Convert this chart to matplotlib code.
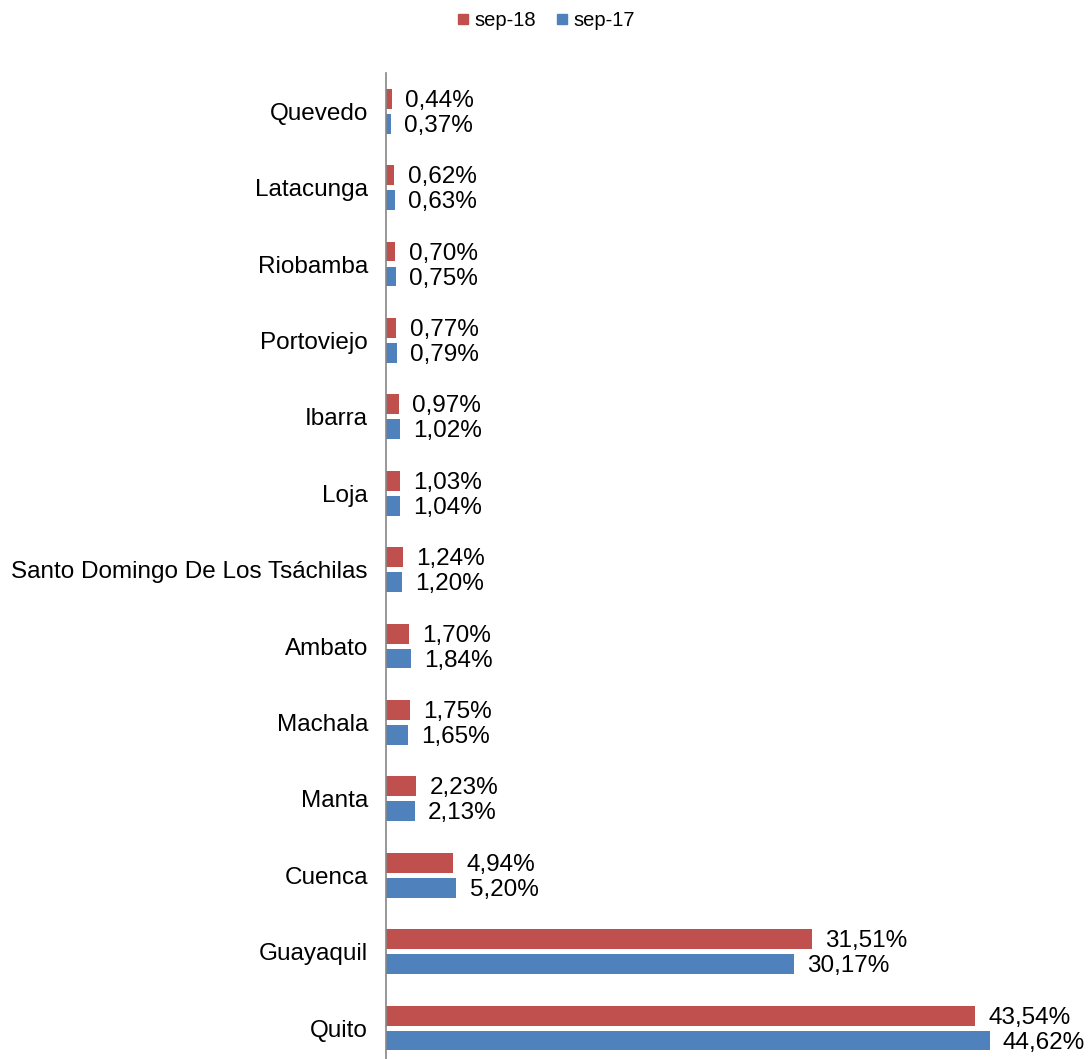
import matplotlib
matplotlib.use("Agg")
import matplotlib.pyplot as plt
from matplotlib.lines import Line2D
import numpy as np

plt.rcParams['font.family'] = ['Liberation Sans', 'DejaVu Sans']

# cities from bottom to top
cities = ["Quito", "Guayaquil", "Cuenca", "Manta", "Machala", "Ambato",
          "Santo Domingo De Los Tsáchilas", "Loja", "Ibarra", "Portoviejo",
          "Riobamba", "Latacunga", "Quevedo"]
sep18 = [43.54, 31.51, 4.94, 2.23, 1.75, 1.70, 1.24, 1.03, 0.97, 0.77, 0.70, 0.62, 0.44]
sep17 = [44.62, 30.17, 5.20, 2.13, 1.65, 1.84, 1.20, 1.04, 1.02, 0.79, 0.75, 0.63, 0.37]

red = "#C0504D"
blue = "#4F81BD"

W, H = 1088, 1059
fig = plt.figure(figsize=(W/100, H/100), dpi=100)
ax = fig.add_axes([386/W, 0, 702/W, (H-73)/H])

y = np.arange(len(cities))
h = 0.26
off = 0.163
ax.barh(y + off, sep18, height=h, color=red, label="sep-18")
ax.barh(y - off, sep17, height=h, color=blue, label="sep-17")

def fmt(v):
    return "{:.2f}%".format(v).replace(".", ",")

for yi, a, b in zip(y, sep18, sep17):
    ax.annotate(fmt(a), xy=(a, yi + off), xytext=(9.5, -1.5), textcoords="offset points",
                va="center", ha="left", fontsize=17.5)
    ax.annotate(fmt(b), xy=(b, yi - off), xytext=(9.5, -1.5), textcoords="offset points",
                va="center", ha="left", fontsize=17.5)

ax.set_xlim(0, 51.9)
ax.set_ylim(-0.405, 12.5)
ax.set_yticks(y)
ax.set_yticklabels(cities, fontsize=17.5)
ax.tick_params(axis="y", length=0, pad=13)
ax.set_xticks([])
for s in ["top", "right", "bottom"]:
    ax.spines[s].set_visible(False)
ax.spines["left"].set_color("#868686")
ax.spines["left"].set_linewidth(1.2)

handles = [Line2D([], [], marker="s", color=red, linestyle="none", markersize=7.5),
           Line2D([], [], marker="s", color=blue, linestyle="none", markersize=7.5)]
fig.legend(handles, ["sep-18", "sep-17"], loc="center", bbox_to_anchor=(0.502, 1 - 21/H),
           ncol=2, frameon=False, fontsize=14.5, handlelength=0.6, handletextpad=0.25,
           columnspacing=1.0)

fig.savefig("out.png", dpi=100)
